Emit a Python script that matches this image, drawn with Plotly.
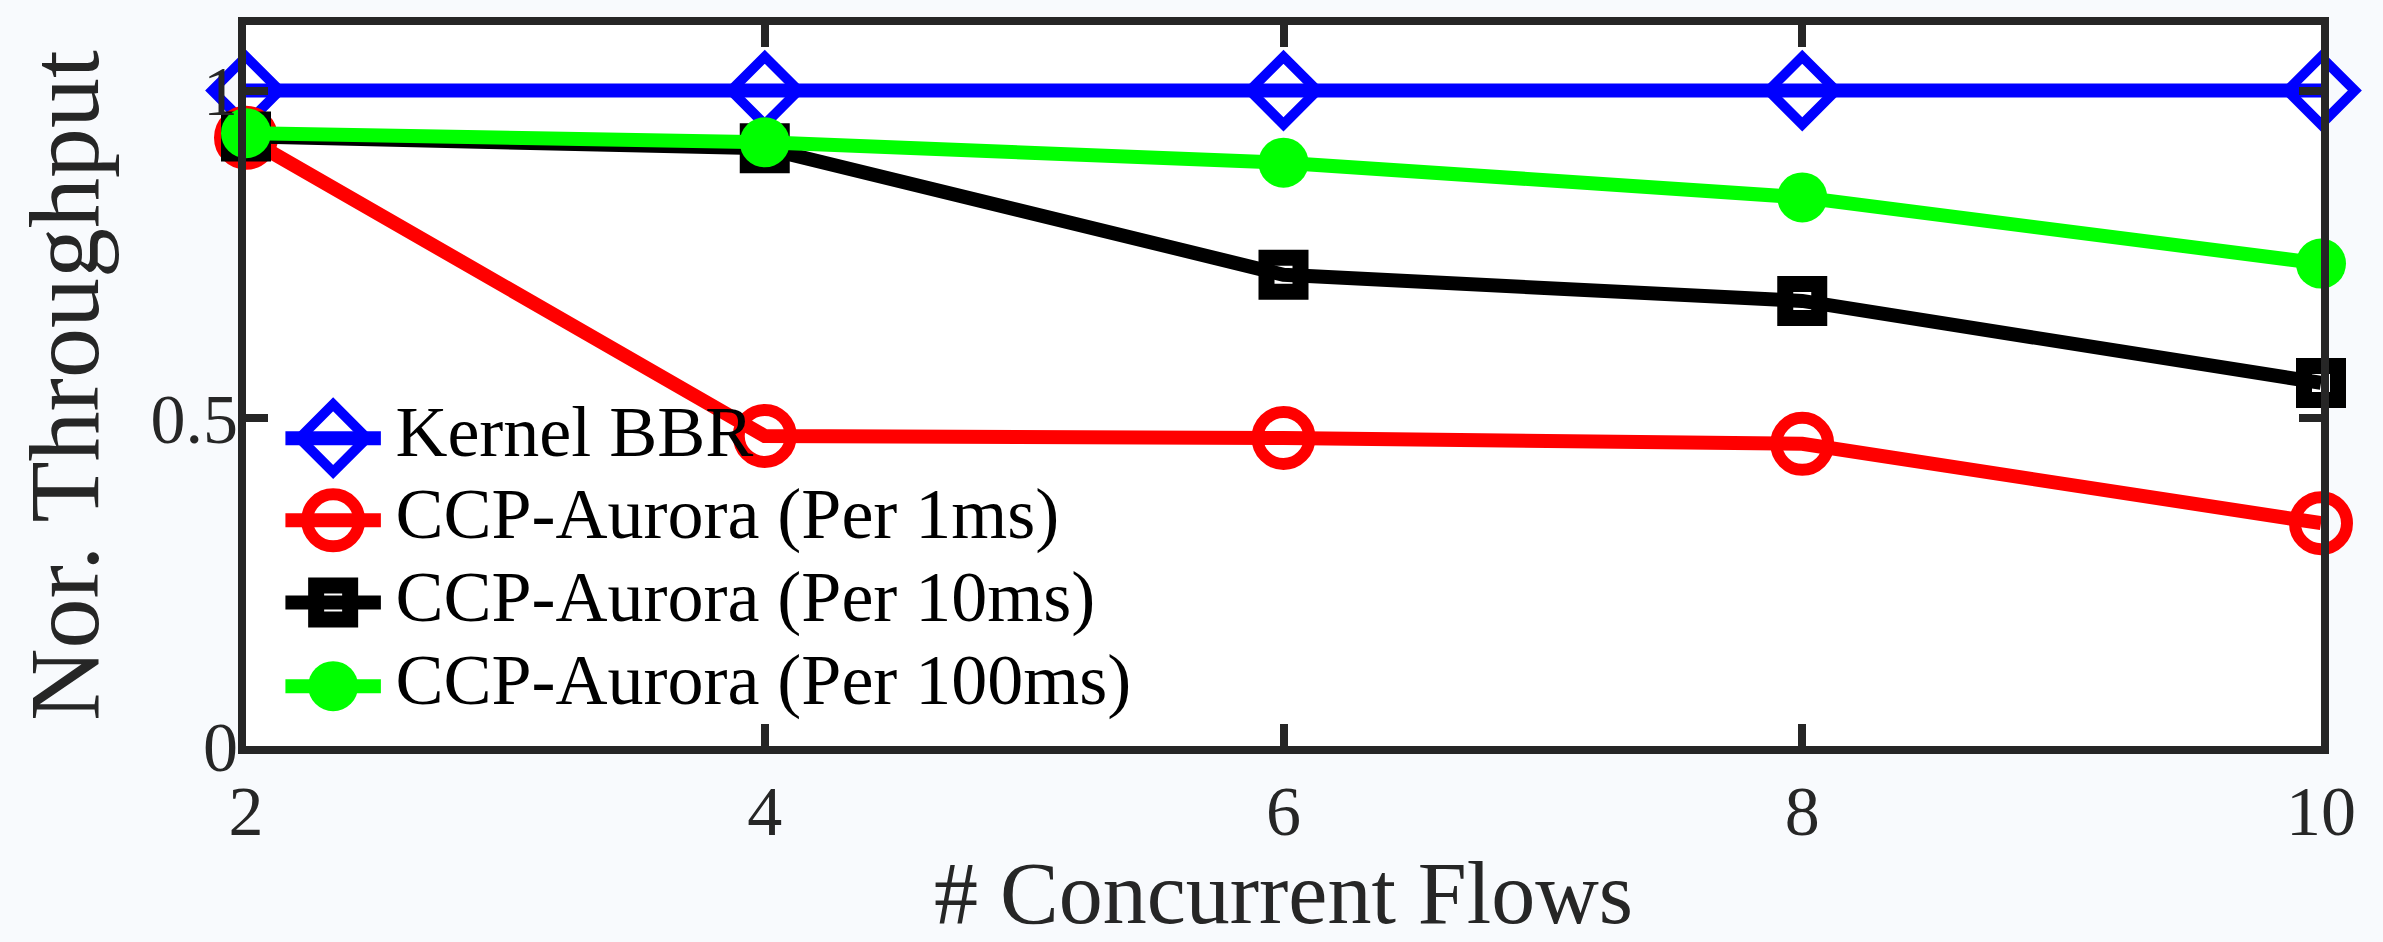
import plotly.graph_objects as go

# Number of concurrent flows on the x axis
flows = [2, 4, 6, 8, 10]

# Normalised throughput per scheme
kernel_bbr = [1.0, 1.0, 1.0, 1.0, 1.0]
aurora_1ms = [0.928, 0.473, 0.470, 0.461, 0.340]
aurora_10ms = [0.930, 0.912, 0.719, 0.679, 0.554]
aurora_100ms = [0.935, 0.921, 0.890, 0.837, 0.736]

x_ticks = [2, 4, 6, 8, 10]
y_ticks = [0, 0.5, 1]
y_tick_text = ["0", "0.5", "1"]

FONT = "Liberation Serif"
AXIS_COLOR = "#262626"

series = [
    ("Kernel BBR", kernel_bbr, "#0000ff", "diamond-open", 52, 10),
    ("CCP-Aurora (Per 1ms)", aurora_1ms, "#ff0000", "circle-open", 52, 12),
    ("CCP-Aurora (Per 10ms)", aurora_10ms, "#000000", "square-open", 34, 16),
    ("CCP-Aurora (Per 100ms)", aurora_100ms, "#00ff00", "circle", 50, 0),
]

# Legend key layout, in fractions of the plot area
LEGEND_LINE_X = [0.019, 0.065]
LEGEND_MARK_X = 0.042
LEGEND_TEXT_X = 0.072
LEGEND_ROW_Y = [0.427, 0.313, 0.199, 0.083]

fig = go.Figure()
for name, values, color, symbol, size, mlw in series:
    fig.add_trace(go.Scatter(
        x=flows,
        y=values,
        name=name,
        mode="lines+markers",
        line=dict(color=color, width=14),
        marker=dict(symbol=symbol, size=size, color=color,
                    line=dict(color=color, width=mlw)),
        cliponaxis=False,
        showlegend=False,
    ))

# Hand-built legend drawn on an overlay axis spanning the plot area
for (name, values, color, symbol, size, mlw), row_y in zip(series, LEGEND_ROW_Y):
    fig.add_trace(go.Scatter(
        x=LEGEND_LINE_X,
        y=[row_y, row_y],
        mode="lines",
        line=dict(color=color, width=14),
        xaxis="x2", yaxis="y2",
        showlegend=False, hoverinfo="skip",
    ))
    fig.add_trace(go.Scatter(
        x=[LEGEND_MARK_X],
        y=[row_y],
        mode="markers",
        marker=dict(symbol=symbol, size=size, color=color,
                    line=dict(color=color, width=mlw)),
        xaxis="x2", yaxis="y2",
        showlegend=False, hoverinfo="skip",
    ))

fig.add_trace(go.Scatter(
    x=[LEGEND_TEXT_X] * len(series),
    y=LEGEND_ROW_Y,
    mode="text",
    text=[s[0] for s in series],
    textposition="middle right",
    textfont=dict(family=FONT, size=72, color="#000000"),
    xaxis="x2", yaxis="y2",
    showlegend=False, hoverinfo="skip",
    cliponaxis=False,
))

axis_common = dict(
    showline=True,
    linecolor=AXIS_COLOR,
    linewidth=8,
    mirror="allticks",
    ticks="inside",
    ticklen=22,
    tickwidth=8,
    tickcolor=AXIS_COLOR,
    showgrid=False,
    zeroline=False,
    automargin=False,
    tickfont=dict(family=FONT, size=70, color=AXIS_COLOR),
)

fig.update_xaxes(
    range=[2, 10],
    tickvals=x_ticks,
    ticktext=[str(v) for v in x_ticks],
    ticklabelstandoff=-3,
    title=dict(text="# Concurrent Flows",
               font=dict(family=FONT, size=88, color=AXIS_COLOR),
               standoff=56),
    **axis_common,
)
fig.update_yaxes(
    range=[0, 1.1],
    tickvals=y_ticks,
    ticktext=y_tick_text,
    ticklabelstandoff=-14,
    title=dict(text="Nor. Throughput",
               font=dict(family=FONT, size=100, color=AXIS_COLOR),
               standoff=22),
    **axis_common,
)

fig.update_layout(
    width=2383,
    height=942,
    margin=dict(l=246, r=62, t=25, b=196),
    paper_bgcolor="#f8fafd",
    plot_bgcolor="#ffffff",
    showlegend=False,
    xaxis2=dict(overlaying="x", range=[0, 1], visible=False, fixedrange=True),
    yaxis2=dict(overlaying="y", range=[0, 1], visible=False, fixedrange=True),
)

fig.write_html("out.html")
